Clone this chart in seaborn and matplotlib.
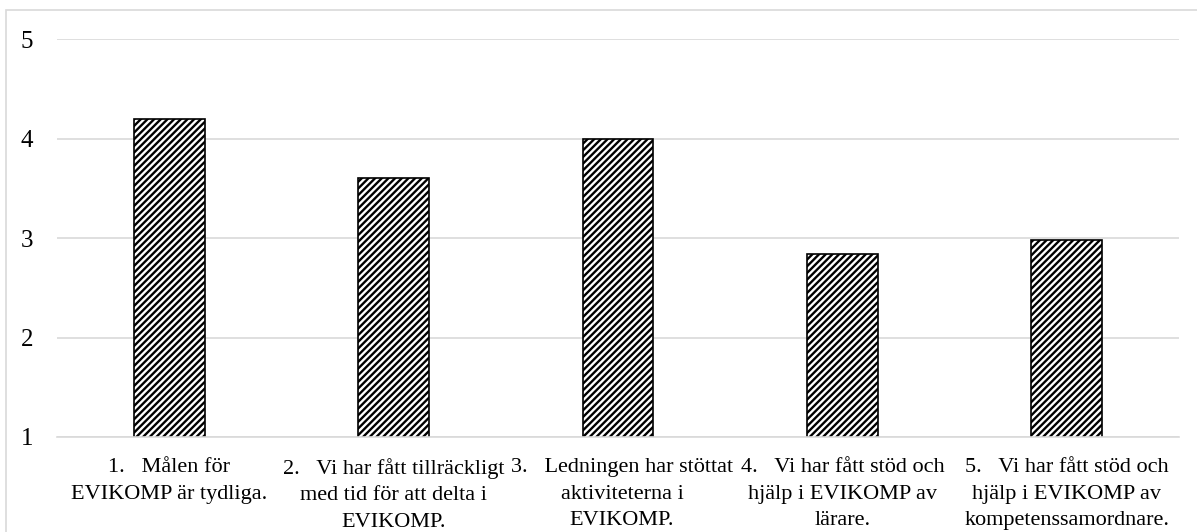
import matplotlib
matplotlib.use("Agg")
import matplotlib.pyplot as plt
from matplotlib.patches import Rectangle
from matplotlib.transforms import ScaledTranslation
import seaborn as sns
import pandas as pd

# Survey statements (x categories) and mean scores on a 1-5 scale
statements = [
    "1.   Målen för\nEVIKOMP är tydliga.",
    "2.   Vi har fått tillräckligt\nmed tid för att delta i\nEVIKOMP.",
    "3.   Ledningen har stöttat\naktiviteterna i\nEVIKOMP.",
    "4.   Vi har fått stöd och\nhjälp i EVIKOMP av\nlärare.",
    "5.   Vi har fått stöd och\nhjälp i EVIKOMP av\nkompetenssamordnare.",
]
scores = [4.2, 3.61, 4.0, 2.84, 2.98]
y_ticks = [1, 2, 3, 4, 5]

df = pd.DataFrame({"statement": statements, "score": scores})

sns.set_theme(style="white")
plt.rcParams["font.family"] = ["Liberation Serif", "DejaVu Serif"]
plt.rcParams["hatch.linewidth"] = 1.7
plt.rcParams["hatch.color"] = "black"

fig = plt.figure(figsize=(11.97, 5.32), dpi=100)
ax = fig.add_axes([0.0476, 0.1786, 0.9374, 0.7472])

sns.barplot(data=df, x="statement", y="score", ax=ax, width=0.315,
            color="white", edgecolor="black", linewidth=1.2,
            hatch="/////", zorder=3)

ax.set_ylim(1, 5)
ax.set_yticks(y_ticks)
ax.yaxis.grid(True, color="#d9d9d9", linewidth=1.2, zorder=0)
ax.set_axisbelow(True)
for side in ["left", "right", "top"]:
    ax.spines[side].set_visible(False)
ax.spines["bottom"].set_color("#d9d9d9")
ax.spines["bottom"].set_linewidth(1.2)
ax.spines["bottom"].set_zorder(4)

ax.set_xlabel("")
ax.set_ylabel("")
ax.tick_params(axis="y", length=0, pad=17, labelsize=18, labelcolor="black")
ax.tick_params(axis="x", length=0, pad=15, labelsize=16, labelcolor="black")
for lbl in ax.get_xticklabels():
    lbl.set_linespacing(1.55)
    lbl.set_ha("center")

# the third label sits a little right of its bar (list-style indent)
shift = ScaledTranslation(4 / 100, 0, fig.dpi_scale_trans)
third = ax.get_xticklabels()[2]
third.set_transform(third.get_transform() + shift)

# light frame around the chart area
fig.add_artist(Rectangle((6 / 1197, -0.1), 1.2, 1.1 - 10 / 532,
                         transform=fig.transFigure, fill=False,
                         edgecolor="#d9d9d9", linewidth=1.2))

fig.savefig("out.png", dpi=100)
